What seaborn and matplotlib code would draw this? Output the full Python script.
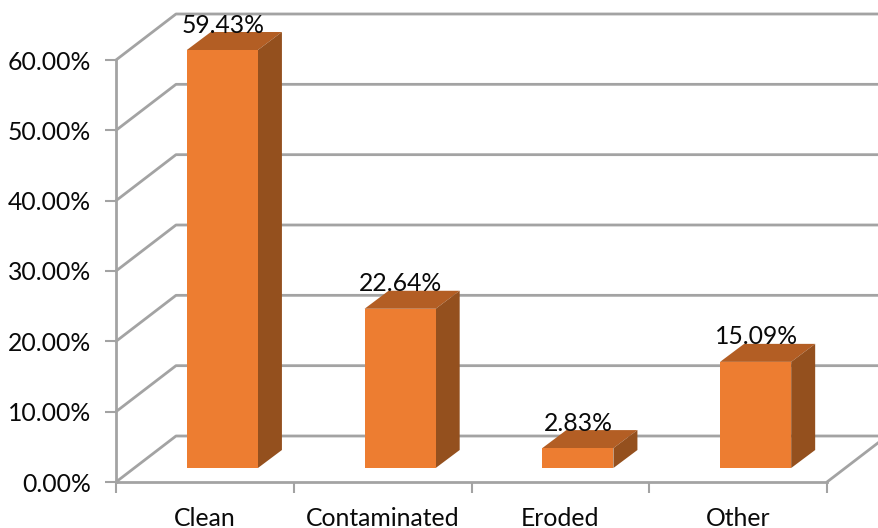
import matplotlib
matplotlib.use('Agg')
import pandas as pd
import seaborn as sns
import matplotlib.pyplot as plt
from matplotlib.patches import Polygon
from matplotlib.transforms import Affine2D

categories = ['Clean', 'Contaminated', 'Eroded', 'Other']
values = [59.43, 22.64, 2.83, 15.09]
y_ticks = [0, 10, 20, 30, 40, 50, 60]

FACE = '#ED7D31'
TOP = '#B35E24'
SIDE = '#94501E'
GRID = '#A3A3A3'
TEXT = '#0A0A0A'
FONT_SIZE = 17.8

# depth of the fake 3d box and of the bars, in pixels
WALL_DX, WALL_DY = 60, 46
BAR_DX, BAR_DY = 24, 18
BAR_SHIFT_X, BAR_SHIFT_Y = 17.5, 14

sns.set_theme(style='white')
plt.rcParams['font.family'] = ['Lato', 'DejaVu Sans']

W, H = 879, 528
fig = plt.figure(figsize=(W / 100, H / 100), dpi=100)
ax = fig.add_axes([116 / W, (H - 482) / H, (827 - 116) / W, (482 - 60) / H])

data = pd.DataFrame({'category': categories, 'value': values})
sns.barplot(data=data, x='category', y='value', color=FACE, saturation=1, width=0.4,
            linewidth=0, ax=ax, zorder=3)
ax.set_xlim(-0.5, 3.5)
ax.set_ylim(0, 60)
ax.set_xlabel('')
ax.set_ylabel('')
ax.set_yticks(y_ticks)
ax.set_yticklabels([f'{t:.2f}%' for t in y_ticks])
ax.set_xticks([i - 0.5 for i in range(len(categories) + 1)], minor=False)
ax.set_xticklabels([])
ax.tick_params(axis='both', length=8, width=1.5, color=GRID, left=True, bottom=True)
ax.tick_params(axis='y', labelsize=FONT_SIZE, labelcolor=TEXT, pad=10)
for spine in ['top', 'right']:
    ax.spines[spine].set_visible(False)
for spine in ['left', 'bottom']:
    ax.spines[spine].set_color(GRID)
    ax.spines[spine].set_linewidth(2)
ax.patch.set_visible(False)


def px(x, y, dx, dy):
    # data point plus a pixel offset, back to figure pixels
    a, b = ax.transData.transform((x, y))
    return (a + dx, b + dy)


# walls and floor
for t in y_ticks:
    x0, y0 = px(-0.5, t, 0, 0)
    x1, y1 = px(-0.5, t, WALL_DX, WALL_DY)
    x2, y2 = px(3.5, t, WALL_DX, WALL_DY)
    fig.add_artist(plt.Line2D([x0 / W, x1 / W, x2 / W], [y0 / H, y1 / H, y2 / H],
                              color=GRID, lw=2, zorder=1))
x0, y0 = px(3.5, 0, 0, 0)
x1, y1 = px(3.5, 0, WALL_DX, WALL_DY)
fig.add_artist(plt.Line2D([x0 / W, x1 / W], [y0 / H, y1 / H], color=GRID, lw=2, zorder=1))

# move the bars onto the floor and add top and side faces
for bar, value, label in zip(ax.patches, values, categories):
    bar.set_transform(ax.transData + Affine2D().translate(BAR_SHIFT_X, BAR_SHIFT_Y))
    bar.set_clip_on(False)
    left, right = bar.get_x(), bar.get_x() + bar.get_width()
    br = px(right, 0, BAR_SHIFT_X, BAR_SHIFT_Y)
    tl = px(left, value, BAR_SHIFT_X, BAR_SHIFT_Y)
    tr = px(right, value, BAR_SHIFT_X, BAR_SHIFT_Y)
    top = [tl, tr, (tr[0] + BAR_DX, tr[1] + BAR_DY), (tl[0] + BAR_DX, tl[1] + BAR_DY)]
    side = [br, tr, (tr[0] + BAR_DX, tr[1] + BAR_DY), (br[0] + BAR_DX, br[1] + BAR_DY)]
    for pts, colour in [(top, TOP), (side, SIDE)]:
        fig.add_artist(Polygon([(a / W, b / H) for a, b in pts], closed=True, facecolor=colour,
                               edgecolor='none', zorder=2.5, transform=fig.transFigure))
    # value label sits on the back edge of the top face
    fig.text((tl[0] + tr[0]) / 2 / W + 0.0005, (tl[1] + BAR_DY - 4.5) / H, f'{value:.2f}%',
             ha='center', va='bottom', fontsize=FONT_SIZE, color=TEXT, zorder=4)

# category labels
for i, label in enumerate(categories):
    a, _ = px(i, 0, 0, 0)
    fig.text(a / W, (H - 518) / H, label, ha='center', va='center', fontsize=FONT_SIZE, color=TEXT)

# front faces above the side faces
ax.set_zorder(3)
fig.savefig('out.png', dpi=100)
